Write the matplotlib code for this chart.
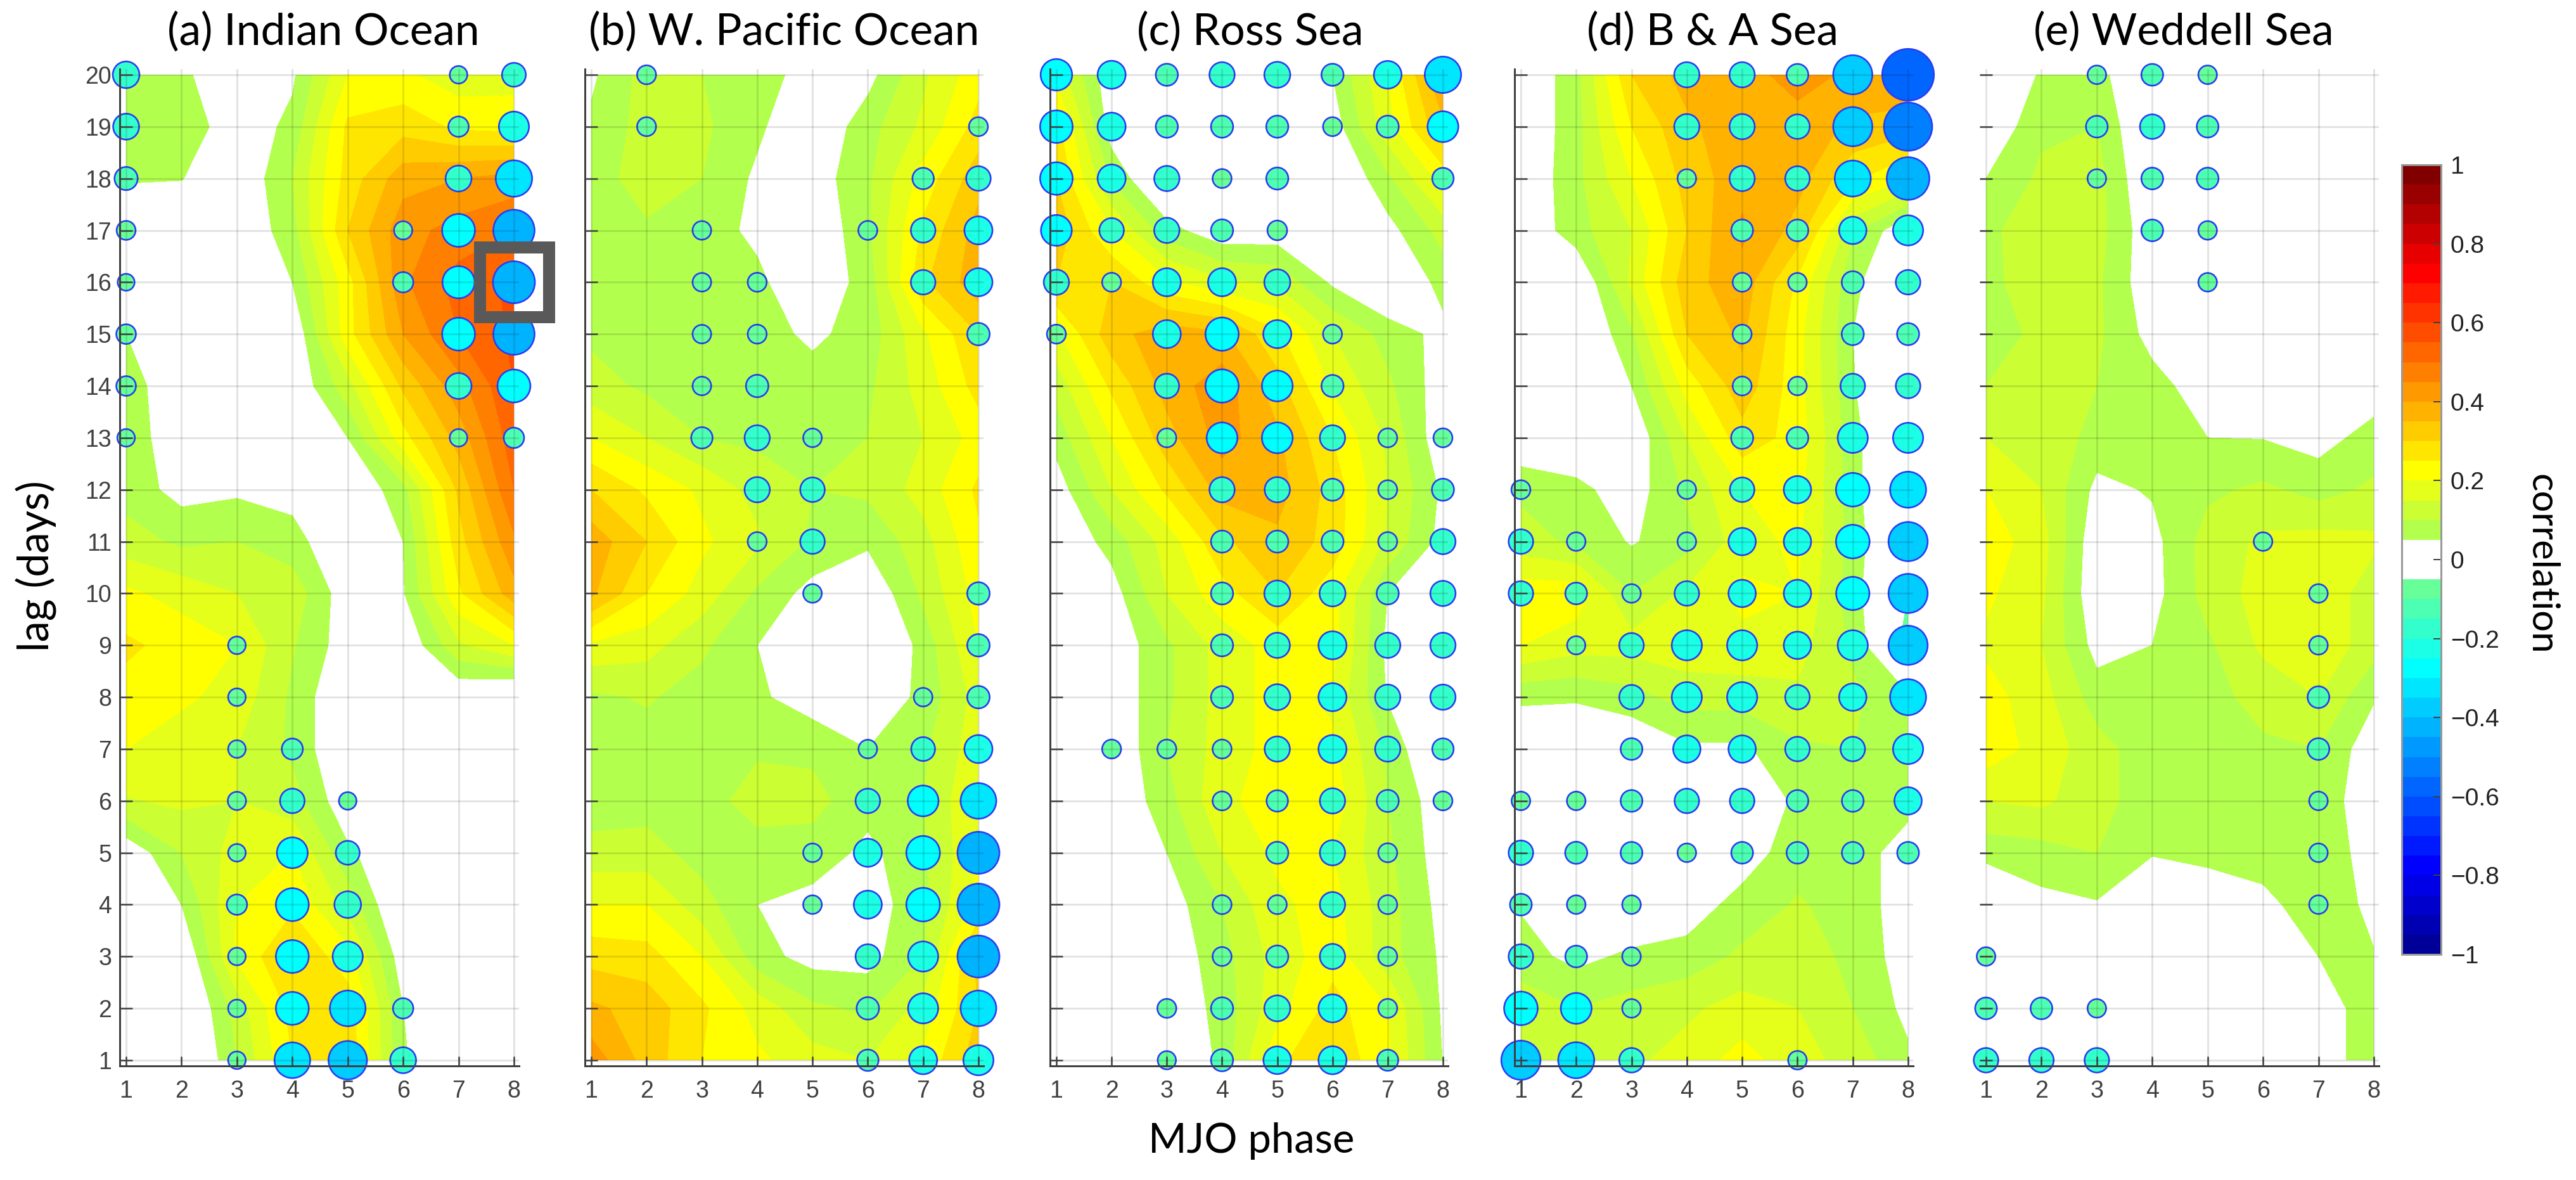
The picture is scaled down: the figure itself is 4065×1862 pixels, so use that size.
import numpy as np
import matplotlib
matplotlib.use("Agg")
import matplotlib.pyplot as plt
from matplotlib.colors import ListedColormap, BoundaryNorm
from matplotlib.cm import ScalarMappable
from matplotlib.patches import Rectangle

W, H = 4065, 1862
DPI = 100

phases = [1, 2, 3, 4, 5, 6, 7, 8]
lags = list(range(20, 0, -1))  # rows below run from lag 20 down to lag 1

titles = ["(a) Indian Ocean", "(b) W. Pacific Ocean", "(c) Ross Sea", "(d) B & A Sea", "(e) Weddell Sea"]
cbar_ticks = [-1, -0.8, -0.6, -0.4, -0.2, 0, 0.2, 0.4, 0.6, 0.8, 1]
cbar_labels = ["\u22121", "\u22120.8", "\u22120.6", "\u22120.4", "\u22120.2", "0", "0.2", "0.4", "0.6", "0.8", "1"]

# positive correlation, shaded
indian_corr = [
    [.10, .06, .01, .04, .20, .21, .17, .18],
    [.10, .09, .01, .065, .26, .28, .24, .23],
    [.052, .052, 0, .10, .27, .38, .40, .42],
    [.03, 0, 0, .08, .30, .43, .47, .50],
    [.02, 0, 0, .05, .23, .44, .52, .56],
    [.05, 0, 0, 0, .23, .40, .50, .56],
    [.08, 0, 0, 0, .13, .31, .43, .55],
    [.09, 0, 0, 0, .05, .23, .37, .53],
    [.08, .03, .04, .03, 0, .08, .31, .50],
    [.12, .09, .10, .07, 0, .05, .28, .44],
    [.21, .18, .15, .13, .015, .045, .24, .38],
    [.26, .23, .20, .105, .02, 0, .14, .20],
    [.23, .21, .18, .09, -.01, 0, 0, -.03],
    [.20, .17, .15, .09, -.01, 0, 0, 0],
    [.145, .16, .15, .12, .01, 0, 0, 0],
    [.01, .10, .17, .20, .06, 0, 0, 0],
    [0, .05, .20, .24, .13, -.02, 0, 0],
    [0, -.01, .21, .30, .22, .015, 0, 0],
    [0, -.03, .12, .27, .28, .05, 0, 0],
    [0, -.05, .10, .25, .29, .055, 0, 0],
]
pacific_corr = [
    [.04, .12, .10, .09, .01, .03, .14, .23],
    [.06, .12, .11, .06, 0, .08, .16, .27],
    [.07, .13, .10, .04, .02, .09, .22, .33],
    [.08, .09, .07, .04, 0, .09, .26, .37],
    [.07, .07, .07, .06, .01, .07, .29, .38],
    [.09, .07, .07, .07, .04, .07, .19, .30],
    [.12, .09, .07, .08, .07, .09, .17, .27],
    [.20, .15, .10, .09, .08, .10, .15, .22],
    [.30, .24, .19, .13, .10, .11, .17, .26],
    [.38, .30, .21, .16, .09, .06, .13, .24],
    [.36, .25, .18, .09, .03, 0, .11, .22],
    [.19, .17, .11, .05, -.02, -.04, .07, .20],
    [.09, .105, .08, .06, .02, 0, .065, .17],
    [.08, .08, .08, .095, .09, .05, .09, .18],
    [.07, .08, .085, .115, .115, .07, .10, .20],
    [.12, .12, .08, .085, .08, .036, .09, .20],
    [.20, .20, .12, .05, .03, .02, .085, .22],
    [.28, .27, .20, .07, .03, .03, .10, .32],
    [.36, .33, .26, .18, .11, .09, .17, .30],
    [.43, .33, .25, .21, .17, .15, .21, .33],
]
ross_corr = [
    [.18, .01, 0, 0, 0, .05, .20, .40],
    [.27, .02, 0, 0, 0, .02, .18, .34],
    [.30, .09, -.03, 0, 0, -.02, .09, .22],
    [.33, .20, .07, .01, .015, 0, .03, .12],
    [.30, .30, .21, .16, .14, .04, -.02, .07],
    [.19, .33, .38, .36, .26, .15, .08, .033],
    [.12, .26, .37, .43, .32, .19, .11, .02],
    [.07, .20, .33, .42, .36, .25, .14, .01],
    [.02, .15, .26, .37, .37, .28, .15, .04],
    [0, .07, .17, .29, .34, .28, .14, .03],
    [0, .025, .15, .23, .30, .22, .05, 0],
    [0, .01, .09, .17, .22, .22, .035, 0],
    [0, .01, .09, .17, .22, .19, .045, 0],
    [0, 0, .10, .17, .22, .21, .09, -.03],
    [0, 0, .08, .19, .22, .23, .10, .015],
    [0, -.02, .05, .15, .21, .20, .11, .02],
    [0, 0, .02, .10, .19, .22, .12, .03],
    [0, 0, .01, .08, .17, .23, .12, .04],
    [0, 0, 0, .07, .18, .27, .20, .04],
    [0, 0, -.03, .065, .24, .29, .21, .048],
]
ba_corr = [
    [0, .08, .30, .37, .38, .42, .39, .40],
    [0, .08, .25, .34, .38, .38, .34, .32],
    [0, .085, .20, .32, .38, .37, .26, .20],
    [0, .08, .15, .30, .41, .33, .11, 0],
    [0, -.01, .16, .33, .38, .24, .06, 0],
    [0, -.02, .09, .30, .36, .22, .05, -.05],
    [0, -.03, .05, .22, .33, .22, .055, -.05],
    [0, 0, 0, .15, .28, .23, .07, -.05],
    [.09, .065, .02, .11, .20, .22, .07, -.05],
    [.12, .09, .045, .08, .18, .21, .08, -.05],
    [.23, .23, .10, .16, .21, .20, .07, -.05],
    [.20, .17, .17, .18, .19, .17, .09, -.08],
    [.06, .055, .08, .12, .12, .14, .11, .06],
    [0, .01, 0, .04, .04, .09, .10, .07],
    [0, 0, 0, 0, 0, .06, .07, .07],
    [0, 0, 0, 0, .02, .08, .08, .02],
    [.045, 0, 0, .02, .07, .105, .08, .02],
    [.07, .035, .06, .07, .11, .12, .09, .02],
    [.13, .10, .12, .14, .17, .15, .10, .035],
    [.10, .13, .14, .17, .22, .17, .13, .06],
]
weddell_corr = [
    [0, .055, .07, -.02, 0, 0, 0, 0],
    [0, .09, .10, -.02, 0, 0, 0, 0],
    [.05, .11, .12, -.01, 0, 0, 0, 0],
    [.08, .15, .12, .01, 0, 0, 0, 0],
    [.08, .14, .11, .01, 0, 0, 0, 0],
    [.08, .11, .11, .03, 0, 0, 0, 0],
    [.10, .12, .10, .07, .02, 0, 0, .02],
    [.15, .14, .08, .06, .05, .048, .03, .07],
    [.20, .15, .035, .055, .09, .11, .08, .11],
    [.23, .17, .01, .033, .12, .16, .17, .16],
    [.21, .16, .005, .03, .12, .17, .19, .12],
    [.19, .15, .03, .05, .09, .16, .19, .12],
    [.22, .17, .075, .07, .08, .12, .15, .055],
    [.23, .18, .12, .07, .055, .09, .10, .015],
    [.15, .16, .12, .07, .06, .07, .075, .02],
    [.07, .08, .10, .055, .06, .07, .07, .035],
    [-.03, .034, .045, -.02, .025, .037, .075, .04],
    [0, 0, 0, 0, 0, 0, .05, .052],
    [0, 0, 0, 0, 0, 0, .035, .065],
    [0, 0, 0, 0, 0, 0, .03, .07],
]

# negative correlation magnitude, circles (0 means no circle)
indian_dots = [
    [.20, 0, 0, 0, 0, 0, .07, .16],
    [.19, 0, 0, 0, 0, 0, .11, .25],
    [.15, 0, 0, 0, 0, 0, .19, .34],
    [.09, 0, 0, 0, 0, .08, .29, .41],
    [.06, 0, 0, 0, 0, .11, .28, .42],
    [.10, 0, 0, 0, 0, 0, .29, .41],
    [.10, 0, 0, 0, 0, 0, .19, .29],
    [.07, 0, 0, 0, 0, 0, .07, .11],
    [0, 0, 0, 0, 0, 0, 0, 0],
    [0, 0, 0, 0, 0, 0, 0, 0],
    [0, 0, 0, 0, 0, 0, 0, 0],
    [0, 0, .07, 0, 0, 0, 0, 0],
    [0, 0, .07, 0, 0, 0, 0, 0],
    [0, 0, .07, .12, 0, 0, 0, 0],
    [0, 0, .08, .17, .07, 0, 0, 0],
    [0, 0, .07, .26, .16, 0, 0, 0],
    [0, 0, .11, .29, .20, 0, 0, 0],
    [0, 0, .07, .29, .25, 0, 0, 0],
    [0, 0, .07, .29, .33, .11, 0, 0],
    [0, 0, .07, .33, .37, .19, 0, 0],
]
pacific_dots = [
    [0, .09, 0, 0, 0, 0, 0, 0],
    [0, .09, 0, 0, 0, 0, 0, .09],
    [0, 0, 0, 0, 0, 0, .125, .17],
    [0, 0, .085, 0, 0, .09, .17, .22],
    [0, 0, .085, .09, 0, 0, .17, .22],
    [0, 0, .085, .09, 0, 0, 0, .14],
    [0, 0, .085, .14, 0, 0, 0, 0],
    [0, 0, .125, .18, .085, 0, 0, 0],
    [0, 0, 0, .18, .17, 0, 0, 0],
    [0, 0, 0, .09, .17, 0, 0, 0],
    [0, 0, 0, 0, .085, 0, 0, .14],
    [0, 0, 0, 0, 0, 0, 0, .14],
    [0, 0, 0, 0, 0, 0, .085, .14],
    [0, 0, 0, 0, 0, .085, .16, .22],
    [0, 0, 0, 0, 0, .17, .26, .33],
    [0, 0, 0, 0, .085, .22, .30, .42],
    [0, 0, 0, 0, .085, .22, .30, .42],
    [0, 0, 0, 0, 0, .17, .25, .42],
    [0, 0, 0, 0, 0, .14, .25, .33],
    [0, 0, 0, 0, 0, .125, .22, .25],
]
ross_dots = [
    [.27, .22, .135, .18, .19, .135, .215, .34],
    [.285, .22, .135, .135, .135, .09, .135, .26],
    [.285, .22, .18, .09, .135, 0, 0, .125],
    [.26, .17, .18, .135, .10, 0, 0, 0],
    [.18, .09, .22, .22, .19, 0, 0, 0],
    [.09, 0, .22, .295, .22, .09, 0, 0],
    [0, 0, .17, .295, .26, .135, 0, 0],
    [0, 0, .09, .26, .26, .18, .09, .09],
    [0, 0, 0, .18, .18, .135, .09, .135],
    [0, 0, 0, .135, .135, .135, .09, .18],
    [0, 0, 0, .135, .19, .19, .135, .18],
    [0, 0, 0, .135, .18, .22, .18, .18],
    [0, 0, 0, .135, .19, .22, .18, .18],
    [0, .09, .09, .09, .18, .22, .18, .125],
    [0, 0, 0, .09, .125, .18, .135, .09],
    [0, 0, 0, 0, .135, .18, .09, 0],
    [0, 0, 0, .09, .09, .18, .09, 0],
    [0, 0, 0, .09, .135, .18, .09, 0],
    [0, 0, .09, .135, .19, .22, .09, 0],
    [0, 0, .08, .135, .215, .22, .12, 0],
]
ba_dots = [
    [0, 0, 0, .18, .18, .13, .38, .56],
    [0, 0, 0, .18, .18, .17, .38, .51],
    [0, 0, 0, .085, .18, .17, .335, .43],
    [0, 0, 0, 0, .13, .13, .21, .25],
    [0, 0, 0, 0, .09, .085, .135, .17],
    [0, 0, 0, 0, .09, 0, .135, .135],
    [0, 0, 0, 0, .09, .085, .17, .17],
    [0, 0, 0, 0, .135, .13, .25, .25],
    [.09, 0, 0, .085, .17, .21, .30, .335],
    [.17, .085, 0, .085, .21, .21, .30, .38],
    [.17, .13, .085, .17, .21, .21, .295, .38],
    [0, .08, .17, .25, .25, .21, .25, .38],
    [0, 0, .17, .25, .25, .17, .21, .335],
    [0, 0, .13, .21, .21, .17, .17, .25],
    [.085, .085, .13, .17, .17, .13, .13, .21],
    [.17, .135, .13, .085, .13, .13, .13, .13],
    [.13, .085, .085, 0, 0, 0, 0, 0],
    [.17, .13, .085, 0, 0, 0, 0, 0],
    [.30, .26, .085, 0, 0, 0, 0, 0],
    [.38, .335, .17, 0, 0, .085, 0, 0],
]
weddell_dots = [
    [0, 0, .085, .13, .085, 0, 0, 0],
    [0, 0, .13, .17, .13, 0, 0, 0],
    [0, 0, .085, .13, .13, 0, 0, 0],
    [0, 0, 0, .13, .085, 0, 0, 0],
    [0, 0, 0, 0, .085, 0, 0, 0],
    [0, 0, 0, 0, 0, 0, 0, 0],
    [0, 0, 0, 0, 0, 0, 0, 0],
    [0, 0, 0, 0, 0, 0, 0, 0],
    [0, 0, 0, 0, 0, 0, 0, 0],
    [0, 0, 0, 0, 0, .085, 0, 0],
    [0, 0, 0, 0, 0, 0, .085, 0],
    [0, 0, 0, 0, 0, 0, .085, 0],
    [0, 0, 0, 0, 0, 0, .13, 0],
    [0, 0, 0, 0, 0, 0, .13, 0],
    [0, 0, 0, 0, 0, 0, .085, 0],
    [0, 0, 0, 0, 0, 0, .085, 0],
    [0, 0, 0, 0, 0, 0, .085, 0],
    [.085, 0, 0, 0, 0, 0, 0, 0],
    [.13, .13, .085, 0, 0, 0, 0, 0],
    [.17, .17, .17, 0, 0, 0, 0, 0],
]

all_corr = [indian_corr, pacific_corr, ross_corr, ba_corr, weddell_corr]
all_dots = [indian_dots, pacific_dots, ross_dots, ba_dots, weddell_dots]

# pixel layout of the five panels
x1_px = [199, 933, 1667, 2400, 3134]
x8_px = [811, 1544, 2277, 3011, 3746]
title_px = [510, 1237, 1973, 2703, 3446]
y20_px, y1_px = 118, 1673
GREY = "#404040"


def px(v):
    return v * 72.0 / DPI


def jet40():
    # same construction as matlab jet(40), with the two bands round zero white
    m, n = 40, 10
    u = np.r_[np.arange(1, n + 1) / n, np.ones(n - 1), np.arange(n, 0, -1) / n]
    g = 5 + np.arange(1, len(u) + 1)
    r, b = g + n, g - n
    cols = np.zeros((m, 3))
    cols[r[r <= m] - 1, 0] = u[r <= m]
    cols[g[g <= m] - 1, 1] = u[g <= m]
    cols[b[b >= 1] - 1, 2] = u[b >= 1]
    cols[19] = cols[20] = 1
    return cols


levels = np.round(np.arange(-1, 1.0001, 0.05), 2)
cmap = ListedColormap(jet40())
norm = BoundaryNorm(levels, cmap.N)

plt.rcParams["font.family"] = ["Liberation Sans", "DejaVu Sans"]
fig = plt.figure(figsize=(W / DPI, H / DPI), dpi=DPI, facecolor="white")

step_y = (y1_px - y20_px) / 19.0
pad_y = 9
for i in range(5):
    step_x = (x8_px[i] - x1_px[i]) / 7.0
    left = x1_px[i] - 10
    right = x8_px[i] + 8
    top = y20_px - pad_y
    bottom = y1_px + pad_y
    ax = fig.add_axes([left / W, 1 - bottom / H, (right - left) / W, (bottom - top) / H])
    ax.set_xlim(1 - 10 / step_x, 8 + 8 / step_x)
    ax.set_ylim(1 - pad_y / step_y, 20 + pad_y / step_y)

    ax.contourf(phases, lags, np.array(all_corr[i]), levels=levels, cmap=cmap, norm=norm)

    dots = np.array(all_dots[i])
    jj, ii = np.nonzero(dots)
    xs = np.array(phases)[ii]
    ys = np.array(lags)[jj]
    vals = dots[jj, ii]
    sizes = px(20 + 110 * vals) ** 2
    ax.scatter(xs, ys, s=sizes, c=-vals, cmap=cmap, norm=norm, edgecolors="#2a3cf5",
               linewidths=px(2.6), clip_on=False, zorder=1.5)

    ax.set_axisbelow(False)
    ax.grid(True, color="black", alpha=0.11, linewidth=px(3))
    ax.set_xticks(phases)
    ax.set_yticks(lags)
    ax.tick_params(axis="x", direction="in", length=px(15), width=px(2.5), color=GREY,
                   labelcolor=GREY, labelsize=27, pad=px(22))
    ax.tick_params(axis="y", direction="in", length=px(20), width=px(2.5), color=GREY,
                   labelcolor=GREY, labelsize=27, pad=px(13), labelleft=(i == 0))
    for s in ["top", "right"]:
        ax.spines[s].set_visible(False)
    ax.spines["left"].set_visible(i != 4)
    for s in ["left", "bottom"]:
        ax.spines[s].set_color(GREY)
        ax.spines[s].set_linewidth(px(3))

    fig.text(title_px[i] / W, 1 - 50 / H, titles[i], ha="center", va="center",
             family="Lato", fontsize=50, color="black")

    if i == 0:
        # highlight box round phase 8, lag 16
        ax.add_patch(Rectangle((8 - 54.5 / step_x, 16 - 55 / step_y), 109 / step_x, 110 / step_y,
                               fill=False, edgecolor="#595959", linewidth=px(19),
                               joinstyle="miter", clip_on=False, zorder=5))

fig.text(1975 / W, 1 - 1800 / H, "MJO phase", ha="center", va="center",
         family="Lato", fontsize=47, color="black")
fig.text(57 / W, 1 - 893 / H, "lag (days)", ha="center", va="center", rotation=90,
         family="Lato", fontsize=48, color="black")

cax = fig.add_axes([3790 / W, 1 - 1506 / H, 62 / W, 1246 / H])
cb = fig.colorbar(ScalarMappable(norm=norm, cmap=cmap), cax=cax, spacing="proportional",
                  ticks=cbar_ticks)
cb.ax.set_yticklabels(cbar_labels)
cb.ax.tick_params(direction="in", length=px(12), width=px(2), color=GREY, labelcolor="#222222",
                  labelsize=28, pad=px(15))
cb.ax.minorticks_off()
cb.outline.set_edgecolor("#999999")
cb.outline.set_linewidth(px(3))
fig.text(4010 / W, 1 - 890 / H, "correlation", ha="center", va="center", rotation=270,
         family="Lato", fontsize=43, color="black")

fig.savefig("out.png", dpi=DPI, facecolor="white")
